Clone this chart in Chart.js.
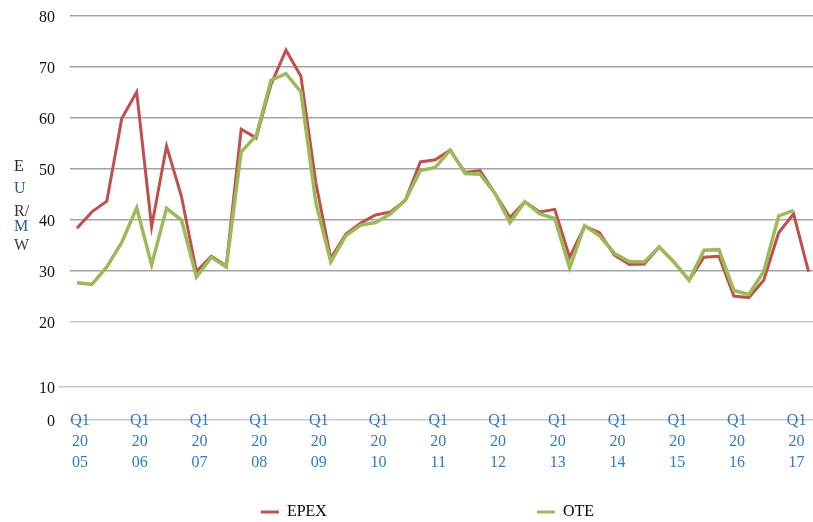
<!DOCTYPE html>
<html>
<head>
<meta charset="utf-8">
<script src="https://cdn.jsdelivr.net/npm/chart.js@4.4.0/dist/chart.umd.min.js"></script>
<style>
html,body{margin:0;padding:0;background:#fff;overflow:hidden;}
#wrap{width:813px;height:522px;position:relative;overflow:hidden;}
canvas{display:block;}
</style>
</head>
<body>
<div id="wrap"><canvas id="c" width="816" height="522"></canvas></div>
<script>
const categories = [
  'Q1 2005','Q2 2005','Q3 2005','Q4 2005',
  'Q1 2006','Q2 2006','Q3 2006','Q4 2006',
  'Q1 2007','Q2 2007','Q3 2007','Q4 2007',
  'Q1 2008','Q2 2008','Q3 2008','Q4 2008',
  'Q1 2009','Q2 2009','Q3 2009','Q4 2009',
  'Q1 2010','Q2 2010','Q3 2010','Q4 2010',
  'Q1 2011','Q2 2011','Q3 2011','Q4 2011',
  'Q1 2012','Q2 2012','Q3 2012','Q4 2012',
  'Q1 2013','Q2 2013','Q3 2013','Q4 2013',
  'Q1 2014','Q2 2014','Q3 2014','Q4 2014',
  'Q1 2015','Q2 2015','Q3 2015','Q4 2015',
  'Q1 2016','Q2 2016','Q3 2016','Q4 2016',
  'Q1 2017','Q2 2017'
];
const epex = [
  38.4, 41.6, 43.7, 59.9, 65.1, 38.7, 54.5, 44.6, 29.9, 32.9, 31.0, 57.8,
  56.1, 66.6, 73.3, 68.2, 47.3, 32.5, 37.2, 39.4, 41.0, 41.6, 43.9, 51.4,
  51.8, 53.7, 49.3, 49.7, 45.2, 40.5, 43.6, 41.6, 42.1, 32.7, 38.8, 37.5,
  33.1, 31.3, 31.4, 34.7, 31.7, 28.2, 32.7, 32.9, 25.1, 24.8, 28.2, 37.5,
  41.2, 29.9
];
const ote = [
  27.7, 27.4, 30.8, 35.6, 42.4, 31.2, 42.3, 40.0, 28.8, 32.7, 30.8, 53.4,
  56.5, 67.4, 68.7, 65.1, 43.4, 31.8, 36.9, 39.0, 39.5, 41.2, 43.9, 49.7,
  50.3, 53.7, 49.1, 49.0, 45.2, 39.5, 43.6, 41.2, 40.3, 30.6, 38.9, 36.9,
  33.5, 31.8, 31.8, 34.7, 31.7, 28.2, 34.1, 34.2, 26.2, 25.4, 29.9, 40.8,
  41.9, null
];
const yTickValues = [0.8, 7.25, 20, 30, 40, 50, 60, 70, 80];
const yTickLabels = ['0', '10', '20', '30', '40', '50', '60', '70', '80'];
const yTitleLetters = ['E', 'U', 'R/', 'M', 'W'];
const seriesNames = ['EPEX', 'OTE'];

const RED = '#C0504D';
const GREEN = '#9BBB59';
const SERIF = '"Liberation Serif", "Times New Roman", Times, serif';

const yTitlePlugin = {
  id: 'yTitleLetters',
  afterDraw(chart) {
    const ctx = chart.ctx;
    const ys = [167, 188.5, 212, 227, 246];
    const cols = ['#262626', '#2B5797', '#333333', '#2B5797', '#3a3f4a'];
    ctx.save();
    ctx.font = '16px ' + SERIF;
    ctx.textAlign = 'left';
    ctx.textBaseline = 'middle';
    yTitleLetters.forEach((t, i) => {
      ctx.fillStyle = cols[i];
      ctx.fillText(t, 14, ys[i]);
    });
    ctx.restore();
  }
};

// let the x tick labels reach above the axis box (they cross the bottom grid line)
const noLabelClip = {
  id: 'noLabelClip',
  beforeDraw(chart) {
    const sx = chart.scales.x;
    if (sx) sx._computeLabelArea = () => undefined;
  }
};

function padText(chart, text, target) {
  const ctx = chart.ctx;
  ctx.save();
  ctx.font = '16px ' + SERIF;
  let s = text;
  while (Math.abs(ctx.measureText(s + ' ').width - target) < Math.abs(ctx.measureText(s).width - target)) s += ' ';
  ctx.restore();
  return s;
}

new Chart(document.getElementById('c'), {
  type: 'line',
  data: {
    labels: categories,
    datasets: [
      {
        label: seriesNames[0],
        data: epex,
        borderColor: RED,
        backgroundColor: RED,
        borderWidth: 3,
        pointRadius: 0,
        tension: 0,
        fill: false,
        order: 1
      },
      {
        label: seriesNames[1],
        data: ote,
        borderColor: GREEN,
        backgroundColor: GREEN,
        borderWidth: 3.5,
        pointRadius: 0,
        tension: 0,
        fill: false,
        order: 0
      }
    ]
  },
  options: {
    responsive: false,
    devicePixelRatio: 1,
    animation: false,
    layout: { padding: { top: 16, right: 0, bottom: -8, left: 0 } },
    plugins: {
      tooltip: { enabled: false },
      title: { display: false },
      legend: {
        display: true,
        position: 'bottom',
        align: 'end',
        labels: {
          boxWidth: 18,
          boxHeight: 3,
          padding: 10,
          color: '#000',
          font: { family: SERIF, size: 16 },
          generateLabels: (chart) => [
            { text: padText(chart, seriesNames[0], 240), fillStyle: RED, strokeStyle: RED, lineWidth: 0, hidden: false, datasetIndex: 0 },
            { text: padText(chart, seriesNames[1], 245), fillStyle: GREEN, strokeStyle: GREEN, lineWidth: 0, hidden: false, datasetIndex: 1 }
          ]
        }
      }
    },
    scales: {
      x: {
        type: 'category',
        offset: true,
        grid: { display: false, drawTicks: false },
        border: { display: false },
        afterFit: (s) => { s.height = 74; },
        ticks: {
          autoSkip: false,
          maxRotation: 0,
          minRotation: 0,
          padding: -10,
          labelOffset: 3,
          color: '#2E7BC6',
          font: { family: SERIF, size: 16, lineHeight: 1.3125 },
          callback: function(value, index) {
            const c = categories[index];
            if (c && c.startsWith('Q1')) {
              const yr = c.slice(3);
              return ['Q1', yr.slice(0, 2), yr.slice(2)];
            }
            return '';
          }
        }
      },
      y: {
        type: 'linear',
        min: 0.8,
        max: 80,
        afterBuildTicks: (s) => { s.ticks = yTickValues.map(v => ({ value: v })); },
        afterFit: (s) => { s.width = 69.5; },
        border: { display: false },
        grid: {
          color: (c) => (c.tick && c.tick.value <= 20) ? '#c6c6c6' : '#a3a3a3',
          lineWidth: 1.5,
          drawTicks: true,
          tickLength: 11,
          tickColor: (c) => (c.tick && c.tick.value === 7.25) ? '#c6c6c6' : 'rgba(0,0,0,0)'
        },
        ticks: {
          padding: 3.5,
          labelOffset: 2,
          color: '#111',
          font: { family: SERIF, size: 16 },
          callback: (v, i) => yTickLabels[i]
        }
      }
    }
  },
  plugins: [yTitlePlugin, noLabelClip]
});
</script>
</body>
</html>
